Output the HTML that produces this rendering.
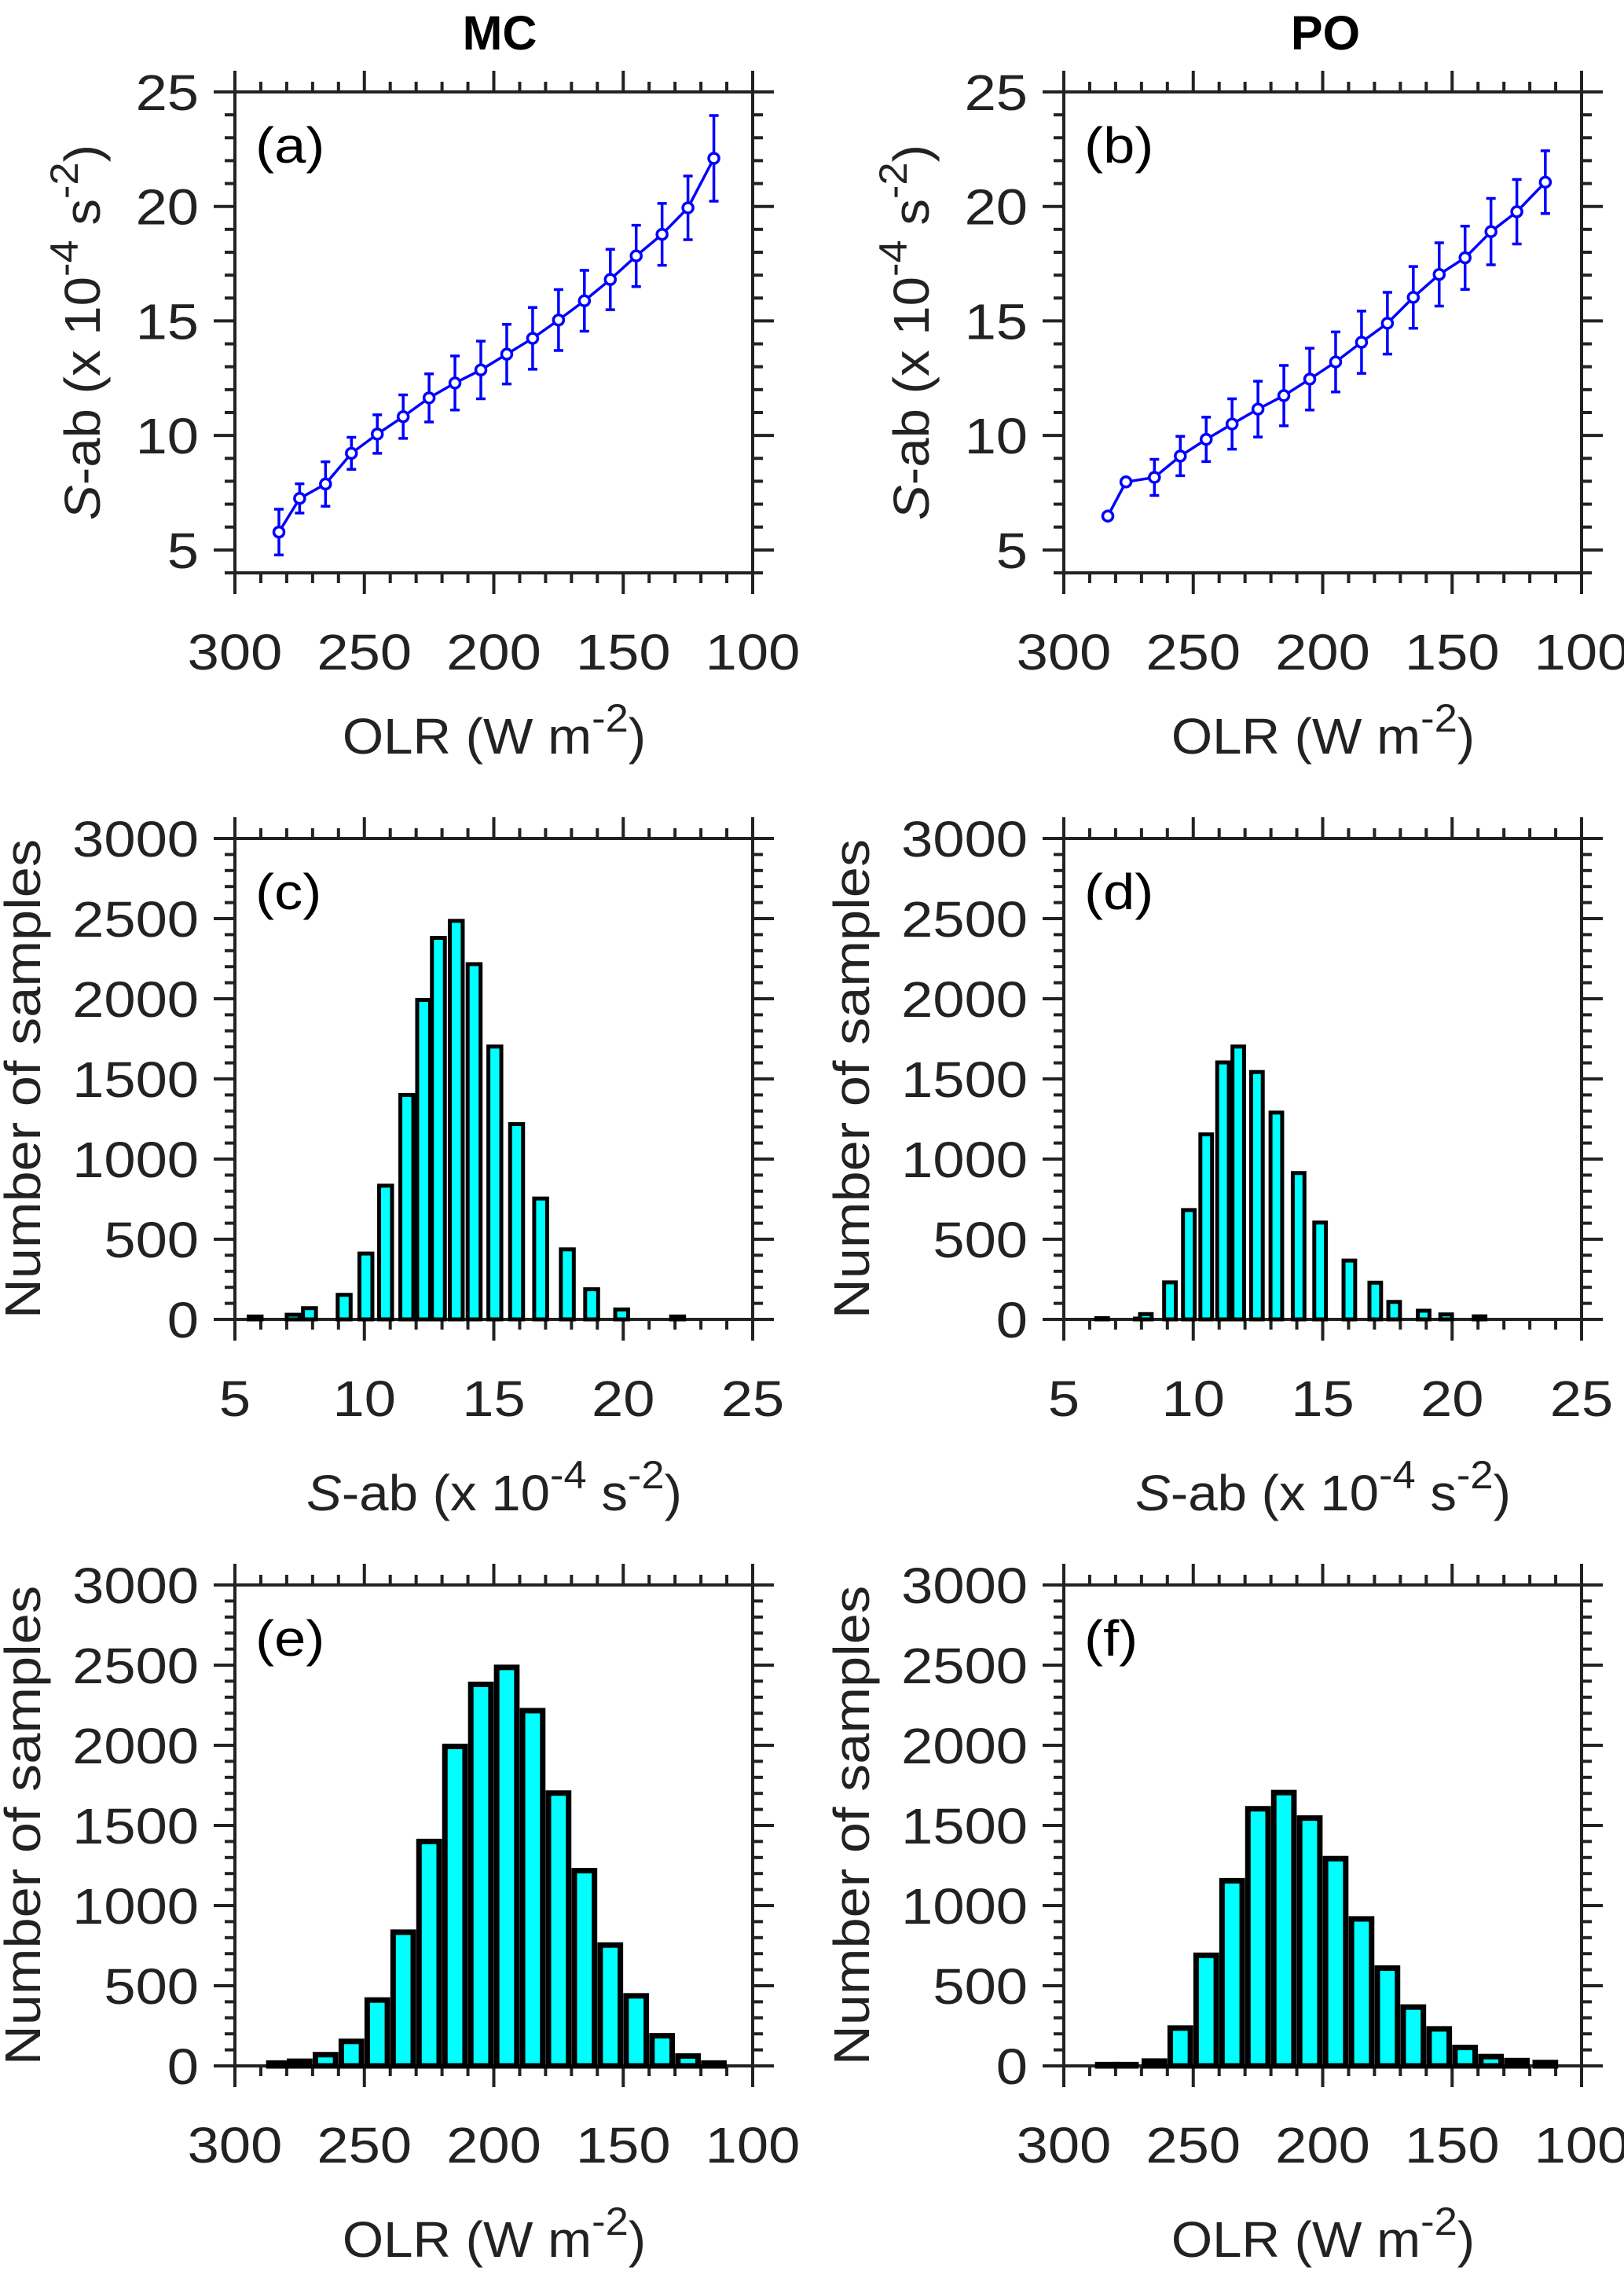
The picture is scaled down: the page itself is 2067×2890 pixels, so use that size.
<!DOCTYPE html>
<html>
<head>
<meta charset="utf-8">
<style>
html,body{margin:0;padding:0;background:#fff;}
svg{display:block;font-family:"Liberation Sans",Arial,sans-serif;}
</style>
</head>
<body>
<svg id="fig" width="2067" height="2890" viewBox="0 0 2067 2890" xmlns="http://www.w3.org/2000/svg">
  <text x="636" y="63" font-size="61" font-weight="bold" text-anchor="middle" fill="#000">MC</text>
  <text x="1687" y="63" font-size="61" font-weight="bold" text-anchor="middle" fill="#000">PO</text>
</svg>
<script>
// ---- Panel (a) data: MC S-ab vs OLR ----
const aOLR = [283,275,265,255,245,235,225,215,205,195,185,175,165,155,145,135,125,115];
const aMean = [5.78,7.25,7.88,9.22,10.06,10.82,11.64,12.29,12.86,13.55,14.24,15.04,15.88,16.81,17.84,18.78,19.94,22.1];
const aErr = [1.0,0.64,0.97,0.7,0.84,0.95,1.05,1.18,1.26,1.3,1.35,1.33,1.33,1.32,1.34,1.35,1.39,1.87];
// ---- Panel (b) data: PO S-ab vs OLR ----
const bOLR = [283,276,265,255,245,235,225,215,205,195,185,175,165,155,145,135,125,114];
const bMean = [6.48,7.97,8.17,9.1,9.83,10.5,11.15,11.74,12.46,13.21,14.07,14.9,16.03,17.03,17.76,18.9,19.77,21.06];
const bErr = [0,0,0.79,0.86,0.97,1.1,1.22,1.32,1.35,1.31,1.36,1.35,1.35,1.38,1.38,1.45,1.41,1.37];
// ---- Histogram counts ----
const mcCounts = [18,29,70,153,411,834,1400,1993,2380,2486,2216,1702,1218,754,437,188,62,18];
const poCounts = [8,5,33,231,682,1154,1603,1702,1543,1290,913,604,367,229,109,54,31,19];
const poOLRCounts = [8,8,30,236,690,1155,1604,1705,1546,1293,917,610,367,231,115,58,33,21];
// ---- Tick labels ----
const olrTicks = [300,250,200,150,100];
const sTicksY = [5,10,15,20,25];
const sTicksX = [5,10,15,20,25];
const countTicks = [0,500,1000,1500,2000,2500,3000];

const NS = "http://www.w3.org/2000/svg";
const svg = document.getElementById('fig');
const SX = 1.13;
const SXT = 1.05;
function mk(tag, attrs, parent){
  const e = document.createElementNS(NS, tag);
  for (const k in attrs) e.setAttribute(k, attrs[k]);
  (parent||svg).appendChild(e);
  return e;
}
function scale(d0,d1,r0,r1){ return v => r0 + (v-d0)/(d1-d0)*(r1-r0); }
function stretchedText(parent, x, y, anchor, rot, sx){
  return mk('text', {x:0, y:0, 'font-size':64, 'text-anchor':anchor, fill:'#222',
    transform:`translate(${x} ${y}) rotate(${rot||0}) scale(${sx||SX} 1)`}, parent);
}

function superLabel(g, x, y, parts, rotate, nameStr){
  const t = stretchedText(g, x, y, 'middle', rotate?-90:0, SXT);
  
  
  parts.forEach(p => {
    const s = mk('tspan', {}, t);
    if (p.sup) { s.setAttribute('dy', p.dy); s.setAttribute('font-size', 50); }
    if (p.dy && !p.sup) s.setAttribute('dy', p.dy);
    if (p.it) s.setAttribute('font-style', 'italic');
    s.textContent = p.t;
  });
  return t;
}

function panel(opt){
  const L=opt.x, T=opt.y, W=659, H=612, R=L+W, B=T+H;
  const g = mk('g', {});
  
  
  const xs = scale(opt.xd[0], opt.xd[1], L, R);
  const ys = scale(opt.yd[0], opt.yd[1], B, T);
  const axis = mk('g', {stroke:'#222','stroke-width':4,fill:'none'}, g);
  
  
  mk('rect', {x:L, y:T, width:W, height:H}, axis);
  for (let v=Math.min(...opt.xd); v<=Math.max(...opt.xd)+1e-9; v+=opt.xminor){
    const major = Math.abs(v/opt.xmajor - Math.round(v/opt.xmajor))<1e-6;
    const len = major?27:13, px = xs(v);
    mk('line', {x1:px,y1:T,x2:px,y2:T-len}, axis);
    mk('line', {x1:px,y1:B,x2:px,y2:B+len}, axis);
  }
  for (let v=opt.yd[0]; v<=opt.yd[1]+1e-9; v+=opt.yminor){
    const major = Math.abs(v/opt.ymajor - Math.round(v/opt.ymajor))<1e-6;
    const len = major?27:13, py = ys(v);
    mk('line', {x1:L,y1:py,x2:L-len,y2:py}, axis);
    mk('line', {x1:R,y1:py,x2:R+len,y2:py}, axis);
  }
  opt.xticks.forEach(v => {
    const t = stretchedText(g, xs(v), B+123, 'middle');
    
    
    t.textContent = v;
  });
  opt.yticks.forEach(v => {
    const t = stretchedText(g, L-46, ys(v)+23, 'end');
    
    
    t.textContent = v;
  });
  const pl = stretchedText(g, L+26, T+90, 'start');
  pl.setAttribute('fill', '#000');
  
  
  pl.textContent = opt.label;
  return {g, xs, ys, L, T, R, B};
}

function lineSeries(p, xv, mv, ev){
  const g = mk('g', {stroke:'#0000ff', fill:'none', 'stroke-width':3.5}, p.g);
  
  
  const pts = xv.map((x,i)=>p.xs(x)+','+p.ys(mv[i])).join(' ');
  const pl = mk('polyline', {points:pts}, g);
  
  
  xv.forEach((x,i)=>{
    const px=p.xs(x);
    if (ev[i]>0){
      const e = mk('path', {d:`M${px},${p.ys(mv[i]+ev[i])}V${p.ys(mv[i]-ev[i])}M${px-6},${p.ys(mv[i]+ev[i])}H${px+6}M${px-6},${p.ys(mv[i]-ev[i])}H${px+6}`}, g);
      
      
    }
    const c = mk('circle', {cx:px, cy:p.ys(mv[i]), r:6.5, fill:'#fff'}, g);
    
    
  });
}

function bars(p, xv, cv, widthUnits, sw){
  const g = mk('g', {stroke:'#000', fill:'#00ffff', 'stroke-width':sw}, p.g);
  
  
  xv.forEach((x,i)=>{
    const x0=p.xs(x-widthUnits/2), x1=p.xs(x+widthUnits/2);
    const left=Math.min(x0,x1), w=Math.abs(x1-x0);
    const top=p.ys(cv[i]);
    const r = mk('rect', {x:left, y:top, width:w, height:Math.max(p.B-top,0.5)}, g);
    
    
  });
}

const colX = [299, 1354];
const rowY = [117, 1067, 2017];

const pa = panel({name:'panel-a', x:colX[0], y:rowY[0], xd:[300,100], yd:[4,25], xminor:10, xmajor:50, yminor:1, ymajor:5, xticks:olrTicks, yticks:sTicksY, label:'(a)'});
lineSeries(pa, aOLR, aMean, aErr);
const pb = panel({name:'panel-b', x:colX[1], y:rowY[0], xd:[300,100], yd:[4,25], xminor:10, xmajor:50, yminor:1, ymajor:5, xticks:olrTicks, yticks:sTicksY, label:'(b)'});
lineSeries(pb, bOLR, bMean, bErr);
const pc = panel({name:'panel-c', x:colX[0], y:rowY[1], xd:[5,25], yd:[0,3000], xminor:1, xmajor:5, yminor:100, ymajor:500, xticks:sTicksX, yticks:countTicks, label:'(c)'});
bars(pc, aMean, mcCounts, 0.5, 5);
const pd = panel({name:'panel-d', x:colX[1], y:rowY[1], xd:[5,25], yd:[0,3000], xminor:1, xmajor:5, yminor:100, ymajor:500, xticks:sTicksX, yticks:countTicks, label:'(d)'});
bars(pd, bMean, poCounts, 0.45, 5);
const pe = panel({name:'panel-e', x:colX[0], y:rowY[2], xd:[300,100], yd:[0,3000], xminor:10, xmajor:50, yminor:100, ymajor:500, xticks:olrTicks, yticks:countTicks, label:'(e)'});
bars(pe, aOLR, mcCounts, 7.8, 7);
const pf = panel({name:'panel-f', x:colX[1], y:rowY[2], xd:[300,100], yd:[0,3000], xminor:10, xmajor:50, yminor:100, ymajor:500, xticks:olrTicks, yticks:countTicks, label:'(f)'});
bars(pf, bOLR, poOLRCounts, 7.8, 7);

const olrParts = [{t:'OLR (W m'},{t:'-2',sup:true,dy:-28},{t:')',dy:28}];
const sParts = [{t:'S',it:true},{t:'-ab (x 10'},{t:'-4',sup:true,dy:-28},{t:' s',dy:28},{t:'-2',sup:true,dy:-28},{t:')',dy:28}];
[0,1].forEach(c=>{
  const cx = colX[c]+330;
  superLabel(svg, cx, rowY[0]+612+230, olrParts, false, 'x-axis-title');
  superLabel(svg, cx, rowY[1]+612+243, sParts, false, 'x-axis-title');
  superLabel(svg, cx, rowY[2]+612+243, olrParts, false, 'x-axis-title');
  superLabel(svg, colX[c]-172, rowY[0]+306, sParts, true, 'y-axis-title');
  [1,2].forEach(r=>{
    const t = stretchedText(svg, colX[c]-248, rowY[r]+306, 'middle', -90, 1.1);
    
    
    t.textContent = 'Number of samples';
  });
});
</script>
</body>
</html>
